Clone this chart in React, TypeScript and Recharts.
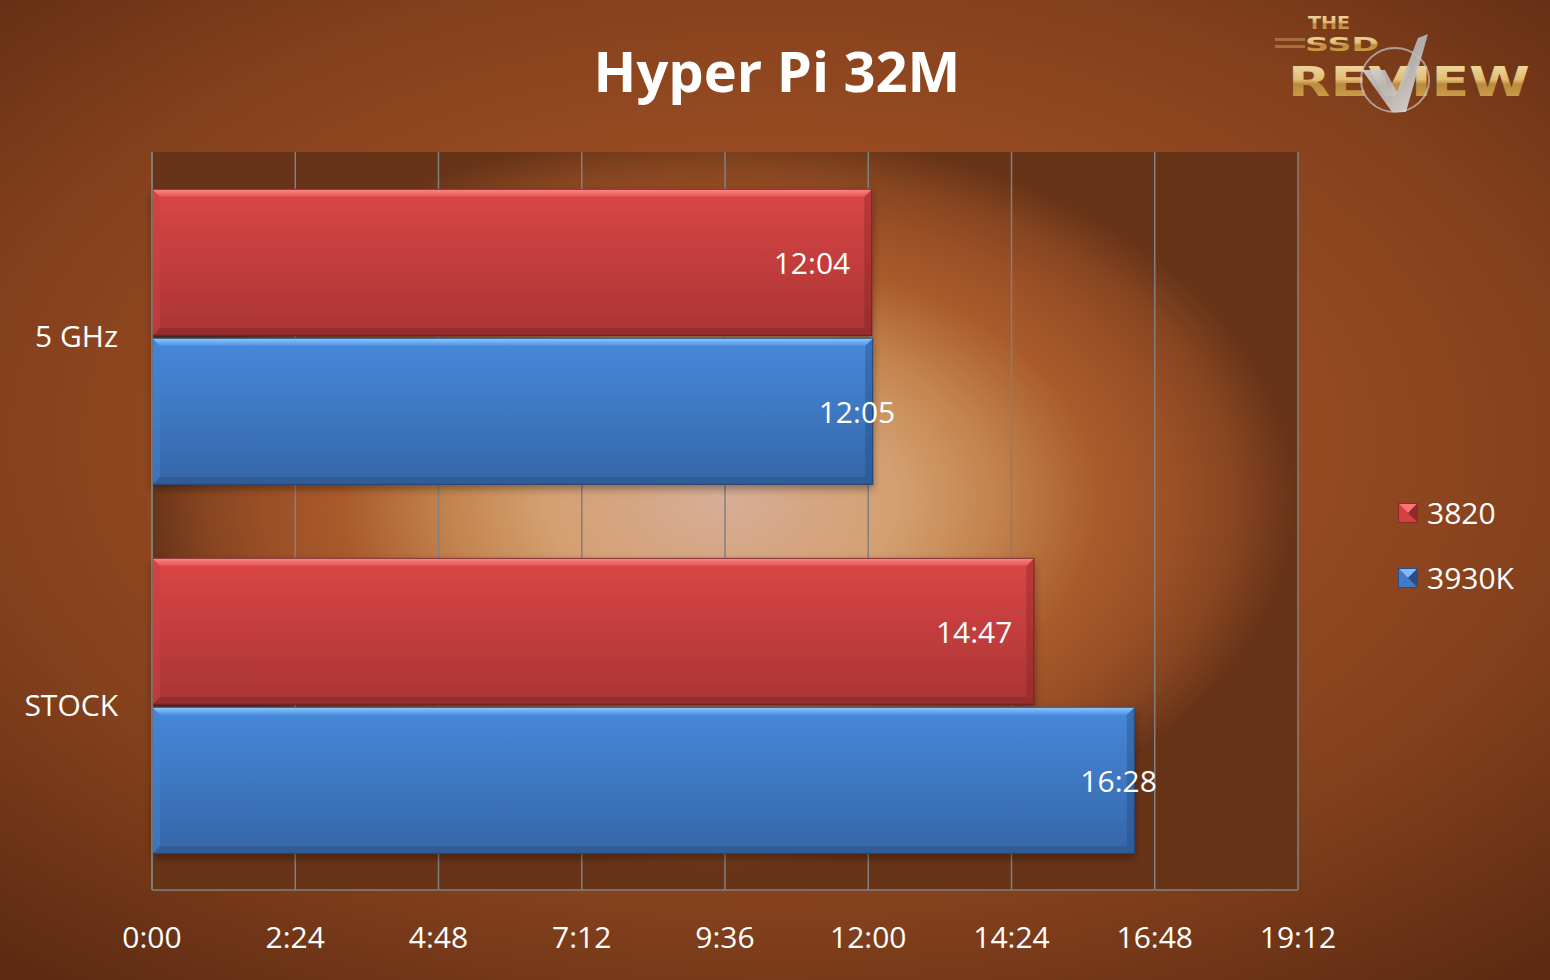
import React from 'react';
import { BarChart, Bar, XAxis, YAxis, CartesianGrid, LabelList } from 'recharts';

const categories = ['5 GHz', 'STOCK'];
const series3820 = [724, 887]; // 12:04, 14:47 (seconds)
const series3930K = [725, 988]; // 12:05, 16:28 (seconds)
const xTicks = [0, 144, 288, 432, 576, 720, 864, 1008, 1152];
const seriesNames = ['3820', '3930K'];
const title = 'Hyper Pi 32M';

const data = categories.map((c, i) => ({ category: c, s3820: series3820[i], s3930K: series3930K[i] }));

const FONT = "'Open Sans', 'Noto Sans', sans-serif";

const fmt = (v: number) => {
  const m = Math.floor(v / 60);
  const s = Math.round(v - m * 60);
  return `${m}:${s < 10 ? '0' : ''}${s}`;
};

const RED = { main: 'redMain', top: 'redTop', bottom: '#932e2e', left: '#d04242', right: '#7a2222', edge: '#6a1f1f' };
const BLUE = { main: 'blueMain', top: 'blueTop', bottom: '#2f5a92', left: '#4482d2', right: '#23446f', edge: '#22406c' };

const makeShape = (pal: any) => (props: any) => {
  const { x, y, width: w, height: h } = props;
  if (w == null || h == null || w <= 0) return <g />;
  const b = 8;
  return (
    <g filter="url(#barShadow)">
      <rect x={x} y={y} width={w} height={h} fill={`url(#${pal.main})`} />
      <polygon points={`${x},${y} ${x + w},${y} ${x + w - b},${y + b} ${x + b},${y + b}`} fill={`url(#${pal.top})`} />
      <polygon points={`${x},${y + h} ${x + w},${y + h} ${x + w - b},${y + h - b} ${x + b},${y + h - b}`} fill={pal.bottom} opacity={0.85} />
      <polygon points={`${x},${y} ${x + b},${y + b} ${x + b},${y + h - b} ${x},${y + h}`} fill={pal.left} opacity={0.5} />
      <polygon points={`${x + w},${y} ${x + w - b},${y + b} ${x + w - b},${y + h - b} ${x + w},${y + h}`} fill={pal.right} opacity={0.35} />
      <rect x={x + 0.5} y={y + 0.5} width={w - 1} height={h - 1} fill="none" stroke={pal.edge} strokeWidth={1} opacity={0.8} />
    </g>
  );
};

const makeLabel = (offset: number) => (props: any) => {
  const { x, y, width, height, value } = props;
  return (
    <text
      x={x + width + offset}
      y={y + height / 2}
      textAnchor="end"
      dominantBaseline="central"
      fill="#ffffff"
      fontSize={30}
      fontFamily={FONT}
    >
      {fmt(value)}
    </text>
  );
};

const LegendIcon = ({ light, main, dark }: any) => (
  <svg width={20} height={20} style={{ display: 'block' }}>
    <polygon points="0,0 20,0 10,10" fill={light} />
    <polygon points="0,0 10,10 0,20" fill={main} />
    <polygon points="20,0 10,10 20,20" fill={dark} />
    <polygon points="0,20 10,10 20,20" fill={main} />
    <rect x={0.5} y={0.5} width={19} height={19} fill="none" stroke={dark} />
  </svg>
);

const legendItems = [
  { name: seriesNames[0], light: '#ff7474', main: '#d64040', dark: '#8e2a2a' },
  { name: seriesNames[1], light: '#7fbcff', main: '#3f7dcc', dark: '#2a4e84' },
];

export default function App() {
  return (
    <div
      style={{
        position: 'absolute',
        left: 0,
        top: 0,
        width: 1550,
        height: 980,
        overflow: 'hidden',
        background:
          'radial-gradient(ellipse 75% 70% at 50% 45%, #a9592b 0%, #9a4c23 40%, #82401c 70%, #5e2b12 100%)',
      }}
    >
      <svg width={0} height={0} style={{ position: 'absolute' }}>
        <defs>
          <radialGradient id="plotGrad" cx="0.496" cy="0.47" r="0.5">
            <stop offset="0" stopColor="#d8ae98" />
            <stop offset="0.15" stopColor="#d6a684" />
            <stop offset="0.3" stopColor="#d4a072" />
            <stop offset="0.47" stopColor="#c4854f" />
            <stop offset="0.66" stopColor="#aa5b2c" />
            <stop offset="0.8" stopColor="#9a4f26" />
            <stop offset="0.9" stopColor="#864520" />
            <stop offset="1" stopColor="#683418" />
          </radialGradient>
          <filter id="barShadow" x="-5%" y="-10%" width="110%" height="130%">
            <feDropShadow dx="0" dy="4" stdDeviation="4" floodColor="#000" floodOpacity="0.35" />
          </filter>
          <linearGradient id="redMain" x1="0" y1="0" x2="0" y2="1">
            <stop offset="0" stopColor="#dc4646" />
            <stop offset="1" stopColor="#a93434" />
          </linearGradient>
          <linearGradient id="redTop" x1="0" y1="0" x2="0" y2="1">
            <stop offset="0" stopColor="#ff8c8c" />
            <stop offset="1" stopColor="#e25252" />
          </linearGradient>
          <linearGradient id="blueMain" x1="0" y1="0" x2="0" y2="1">
            <stop offset="0" stopColor="#4789da" />
            <stop offset="1" stopColor="#3566a9" />
          </linearGradient>
          <linearGradient id="blueTop" x1="0" y1="0" x2="0" y2="1">
            <stop offset="0" stopColor="#92ceff" />
            <stop offset="1" stopColor="#4d90e3" />
          </linearGradient>
          <linearGradient id="goldGrad" x1="0" y1="0" x2="0" y2="1">
            <stop offset="0" stopColor="#f4e0b0" />
            <stop offset="0.45" stopColor="#e2bc72" />
            <stop offset="0.55" stopColor="#b98a3c" />
            <stop offset="1" stopColor="#d8a850" />
          </linearGradient>
          <linearGradient id="silverGrad" x1="0" y1="0" x2="1" y2="1">
            <stop offset="0" stopColor="#f4f4f4" />
            <stop offset="0.5" stopColor="#b8b8b8" />
            <stop offset="1" stopColor="#e8e8e8" />
          </linearGradient>
        </defs>
      </svg>
      <BarChart
        width={1550}
        height={980}
        data={data}
        layout="vertical"
        margin={{ top: 152, right: 252, bottom: 0, left: 0 }}
        barCategoryGap="10%"
        barGap={2}
        style={{ position: 'absolute', left: 0, top: 0 }}
      >
        <CartesianGrid horizontal={false} vertical stroke="#808080" strokeWidth={1.5} fill="url(#plotGrad)" fillOpacity={1} />
        <XAxis
          type="number"
          domain={[0, 1152]}
          ticks={xTicks}
          tickFormatter={fmt}
          interval={0}
          height={90}
          tickLine={false}
          tickSize={0}
          tickMargin={37}
          axisLine={{ stroke: '#808080', strokeWidth: 1.5 }}
          tick={{ fill: '#ffffff', fontSize: 30, fontFamily: FONT }}
        />
        <YAxis
          type="category"
          dataKey="category"
          width={152}
          tickLine={false}
          tickSize={0}
          tickMargin={34}
          axisLine={{ stroke: '#808080', strokeWidth: 1.5 }}
          tick={{ fill: '#ffffff', fontSize: 30, fontFamily: FONT }}
        />
        <Bar dataKey="s3820" name={seriesNames[0]} fill="#d64040" shape={makeShape(RED)} isAnimationActive={false}>
          <LabelList dataKey="s3820" content={makeLabel(-22)} />
        </Bar>
        <Bar dataKey="s3930K" name={seriesNames[1]} fill="#3f7dcc" shape={makeShape(BLUE)} isAnimationActive={false}>
          <LabelList dataKey="s3930K" content={makeLabel(22)} />
        </Bar>
      </BarChart>
      <div style={{ position: 'absolute', left: 1398, top: 495, fontFamily: FONT }}>
        {legendItems.map((it, i) => (
          <div key={it.name} style={{ display: 'flex', alignItems: 'center', height: 36, marginBottom: i === 0 ? 29 : 0 }}>
            <LegendIcon light={it.light} main={it.main} dark={it.dark} />
            <span style={{ color: '#fff', fontSize: 30, marginLeft: 9, lineHeight: '36px' }}>{it.name}</span>
          </div>
        ))}
      </div>
      <svg width={1550} height={980} style={{ position: 'absolute', left: 0, top: 0, pointerEvents: 'none' }}>
        <text x={777} y={92} textAnchor="middle" fill="#ffffff" fontSize={56} fontWeight={700} fontFamily={FONT}>
          {title}
        </text>
        <g fontFamily="'DejaVu Sans', sans-serif" fontWeight={700}>
          <text x={1308} y={29} fontSize={17} fill="url(#goldGrad)" textLength={42} lengthAdjust="spacingAndGlyphs">THE</text>
          <rect x={1275} y={38} width={30} height={3} fill="#c9a060" opacity={0.5} />
          <rect x={1275} y={45} width={30} height={3} fill="#c9a060" opacity={0.5} />
          <text x={1305} y={51} fontSize={19} fill="url(#goldGrad)" textLength={74} lengthAdjust="spacingAndGlyphs">SSD</text>
          <text x={1288} y={96} fontSize={40} fill="url(#goldGrad)" textLength={242} lengthAdjust="spacingAndGlyphs">REVIEW</text>
          <ellipse cx={1395} cy={80} rx={34} ry={32} fill="none" stroke="#c8c8c8" strokeWidth={2} opacity={0.7} />
          <polygon points="1362,70 1385,70 1397,92 1418,38 1428,34 1406,112 1392,112" fill="url(#silverGrad)" opacity={0.9} />
        </g>
      </svg>
    </div>
  );
}
